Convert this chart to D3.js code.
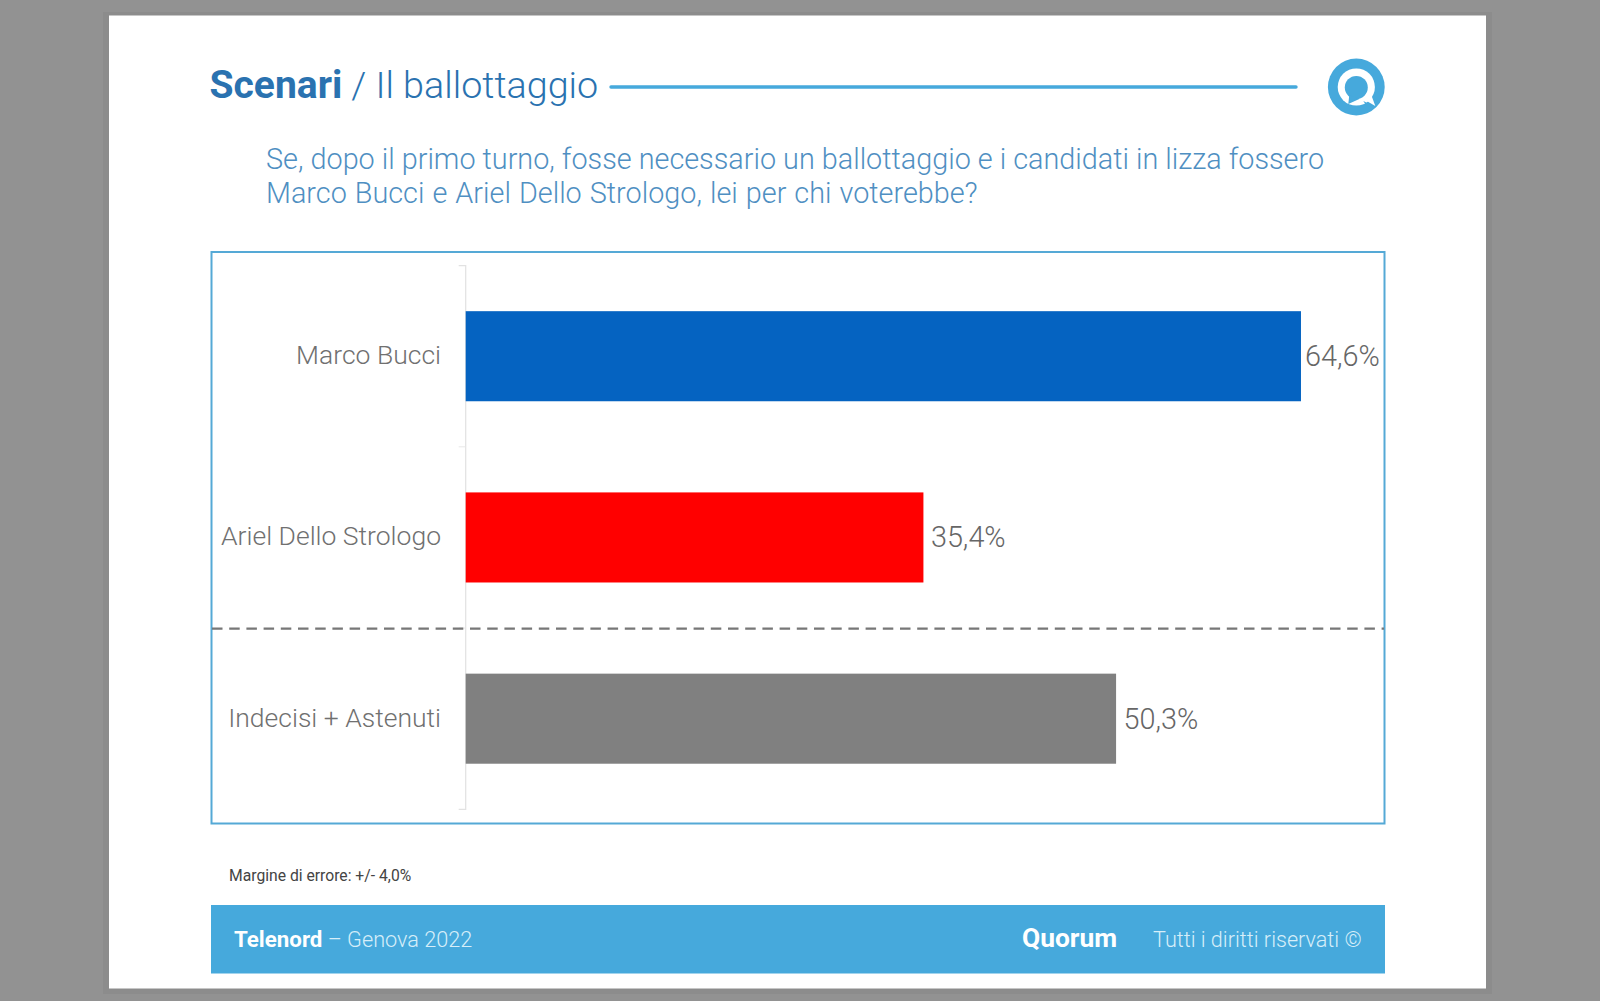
<!DOCTYPE html>
<html><head><meta charset="utf-8">
<style>html,body{margin:0;padding:0;background:#929292;overflow:hidden}svg{display:block}text{font-family:Roboto,Lato,sans-serif}</style>
<script src="https://cdnjs.cloudflare.com/ajax/libs/d3/7.8.5/d3.min.js"></script>
</head><body><svg id="c" width="1600" height="1001"></svg>
<script>
const categories=["Marco Bucci","Ariel Dello Strologo","Indecisi + Astenuti"];
const values=[64.6,35.4,50.3];
const valueLabels=["64,6%","35,4%","50,3%"];
const barColors=["#0563c1","#ff0000","#808080"];
const titleBold="Scenari";
const titleLight="/ Il ballottaggio";
const questionLines=["Se, dopo il primo turno, fosse necessario un ballottaggio e i candidati in lizza fossero","Marco Bucci e Ariel Dello Strologo, lei per chi voterebbe?"];
const marginNote="Margine di errore: +/- 4,0%";
const blue="#46a9dc", titleBlue="#2a72b0", qBlue="#4f8fc2";
const svg=d3.select("#c");
svg.append("rect").attr("x",103).attr("y",12).attr("width",1389).attr("height",982).attr("fill","#808080").attr("opacity",.35);
svg.append("rect").attr("x",109).attr("y",15.5).attr("width",1377).attr("height",973).attr("fill","#fff");
// header
const t=svg.append("text").attr("x",209.5).attr("y",98).attr("fill",titleBlue);
t.append("tspan").attr("font-size",39).attr("font-weight",700).text(titleBold);
t.append("tspan").attr("font-size",37.7).attr("font-weight",300).attr("dx",9).text(titleLight);
svg.append("line").attr("x1",611).attr("x2",1296).attr("y1",87).attr("y2",87).attr("stroke",blue).attr("stroke-width",3.4).attr("stroke-linecap","round");
questionLines.forEach((s,i)=>svg.append("text").attr("x",266).attr("y",[168.5,202.5][i]).attr("font-size",28.8).attr("font-weight",300).attr("word-spacing",[0,1][i]).attr("fill",qBlue).text(s));
// logo
const logo=svg.append("g").attr("transform","translate(1356.3,87)");
logo.append("circle").attr("r",28.4).attr("fill",blue);
logo.append("circle").attr("r",18.6).attr("fill","#fff");
logo.append("path").attr("d","M7,12 L19,19 L15,8 Z").attr("fill","#fff");
logo.append("circle").attr("cy",0.5).attr("r",11.5).attr("fill",blue);
logo.append("path").attr("d","M-7,8 L-8,17 L3,12 Z M7,14 L17,19 L11,20 Z").attr("fill",blue);
// frame
svg.append("rect").attr("x",211.5).attr("y",252).attr("width",1173).attr("height",571.5).attr("fill","none").attr("stroke","#55a9d6").attr("stroke-width",2);
// chart
const x=d3.scaleLinear().domain([0,70]).range([465.7,465.7+70*12.93]);
const y=d3.scaleBand().domain(categories).range([265.6,809.3]);
const barH=y.bandwidth()*0.497, off=(y.bandwidth()-barH)/2;
const edges=d3.range(categories.length+1).map(i=>265.6+i*y.step());
svg.append("path").attr("d","M458.7,"+edges[0]+"H465.7V"+edges[3]+"H458.7").attr("fill","none").attr("stroke","#e2e2e2").attr("stroke-width",1.2);
svg.selectAll(".tick-mid").data(edges.slice(1,3)).join("line").attr("x1",458.7).attr("x2",465.7).attr("y1",d=>d).attr("y2",d=>d).attr("stroke","#e8e8e8").attr("stroke-width",1);
svg.selectAll(".bar").data(categories).join("rect").attr("x",x(0)).attr("y",d=>y(d)+off).attr("width",(d,i)=>x(values[i])-x(0)).attr("height",barH).attr("fill",(d,i)=>barColors[i]);
svg.selectAll(".cat").data(categories).join("text").attr("x",441).attr("y",d=>y(d)+y.bandwidth()/2+8).attr("text-anchor","end").attr("font-size",26.5).attr("font-weight",300).attr("fill","#707070").text(d=>d);
svg.selectAll(".val").data(categories).join("text").attr("x",(d,i)=>x(values[i])+(i==0?4:7.5)).attr("y",d=>y(d)+y.bandwidth()/2+10).attr("font-size",28.8).attr("font-weight",300).attr("fill","#666").text((d,i)=>valueLabels[i]);
svg.append("line").attr("x1",212).attr("x2",1384).attr("y1",628.6).attr("y2",628.6).attr("stroke","#777").attr("stroke-width",2.2).attr("stroke-dasharray","10.5,6.7");
// footer
svg.append("text").attr("x",229).attr("y",880.5).attr("font-size",15.7).attr("font-weight",400).attr("fill","#444").text(marginNote);
svg.append("rect").attr("x",211).attr("y",905).attr("width",1174).attr("height",68.5).attr("fill",blue);
const f=svg.append("text").attr("x",234).attr("y",946.5).attr("fill","#fff");
f.append("tspan").attr("font-size",22.3).attr("font-weight",700).text("Telenord");
f.append("tspan").attr("font-size",21.7).attr("font-weight",300).attr("fill","#d6eef9").text(" – Genova 2022");
svg.append("text").attr("x",1022).attr("y",947).attr("font-size",26.4).attr("font-weight",700).attr("fill","#fff").text("Quorum");
svg.append("text").attr("x",1153).attr("y",946.5).attr("font-size",21.6).attr("font-weight",300).attr("fill","#d6eef9").text("Tutti i diritti riservati ©");
</script></body></html>
